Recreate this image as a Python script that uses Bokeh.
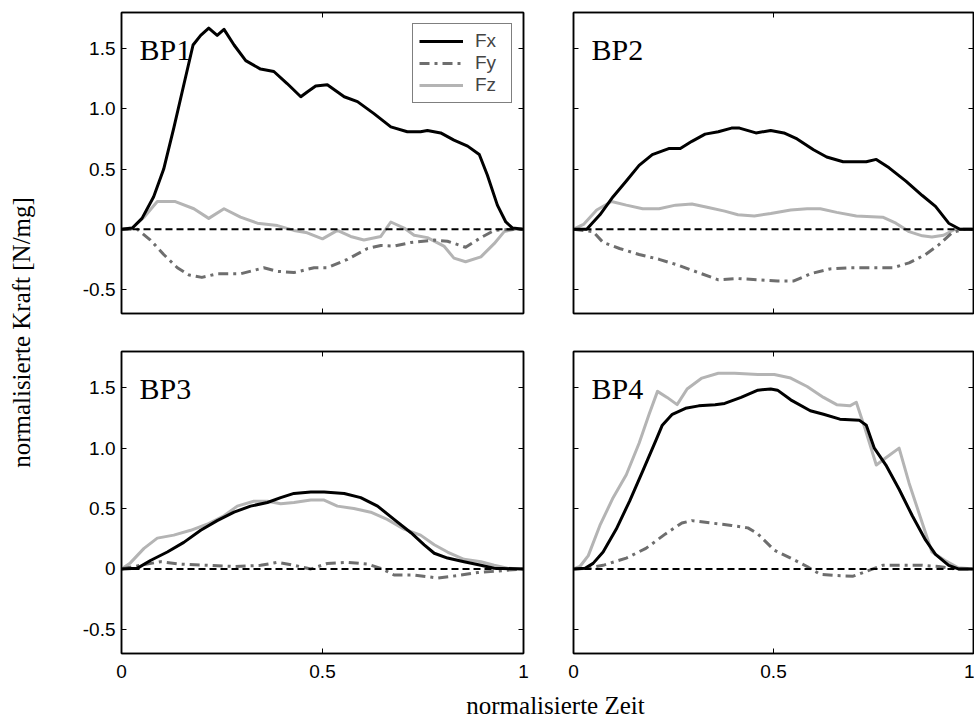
import math
from bokeh.plotting import figure
from bokeh.models import Range1d, LinearAxis, FixedTicker, Span, Label, Legend, LegendItem
from bokeh.layouts import row, column
from bokeh.embed import file_html
from bokeh.resources import INLINE

# ---------------- data (normalised time, normalised force) ----------------
bp1_fx_t = [0, 0.027, 0.051, 0.08, 0.105, 0.13, 0.155, 0.178, 0.197, 0.217, 0.238, 0.255, 0.28, 0.309, 0.346, 0.379, 0.412, 0.446, 0.462, 0.483, 0.512, 0.533, 0.554, 0.587, 0.628, 0.67, 0.711, 0.744, 0.761, 0.794, 0.827, 0.861, 0.89, 0.91, 0.935, 0.956, 0.973, 1.0]
bp1_fx = [0, 0.01, 0.09, 0.27, 0.5, 0.84, 1.2, 1.53, 1.61, 1.67, 1.61, 1.66, 1.53, 1.40, 1.33, 1.31, 1.21, 1.10, 1.14, 1.19, 1.20, 1.15, 1.10, 1.06, 0.96, 0.85, 0.81, 0.81, 0.82, 0.80, 0.74, 0.69, 0.62, 0.45, 0.20, 0.06, 0.01, 0]
bp1_fy_t = [0, 0.039, 0.072, 0.105, 0.139, 0.168, 0.2, 0.238, 0.296, 0.354, 0.388, 0.429, 0.479, 0.512, 0.562, 0.612, 0.645, 0.678, 0.72, 0.778, 0.811, 0.856, 0.894, 0.927, 0.977, 1.0]
bp1_fy = [0, 0, -0.09, -0.21, -0.32, -0.38, -0.40, -0.37, -0.37, -0.32, -0.35, -0.36, -0.32, -0.32, -0.25, -0.16, -0.135, -0.14, -0.11, -0.09, -0.10, -0.15, -0.07, -0.01, 0, 0]
bp1_fz_t = [0, 0.027, 0.056, 0.089, 0.134, 0.18, 0.217, 0.255, 0.296, 0.338, 0.388, 0.429, 0.462, 0.5, 0.537, 0.57, 0.603, 0.645, 0.67, 0.703, 0.728, 0.761, 0.802, 0.827, 0.856, 0.894, 0.927, 0.952, 0.977, 1.0]
bp1_fz = [0, 0.01, 0.10, 0.23, 0.23, 0.17, 0.09, 0.17, 0.10, 0.05, 0.03, -0.01, -0.03, -0.08, -0.01, -0.06, -0.09, -0.06, 0.06, 0.01, -0.05, -0.07, -0.14, -0.24, -0.27, -0.23, -0.12, -0.02, 0, 0]

bp2_fx_t = [0, 0.033, 0.066, 0.099, 0.132, 0.164, 0.197, 0.238, 0.267, 0.296, 0.329, 0.362, 0.395, 0.415, 0.456, 0.493, 0.526, 0.559, 0.6, 0.633, 0.674, 0.732, 0.757, 0.789, 0.831, 0.872, 0.905, 0.938, 0.966, 1.0]
bp2_fx = [0, 0, 0.12, 0.27, 0.40, 0.53, 0.62, 0.67, 0.67, 0.73, 0.79, 0.81, 0.84, 0.84, 0.80, 0.82, 0.80, 0.75, 0.66, 0.60, 0.56, 0.56, 0.58, 0.51, 0.40, 0.28, 0.19, 0.05, 0, 0]
bp2_fy_t = [0, 0.049, 0.074, 0.115, 0.164, 0.214, 0.263, 0.312, 0.362, 0.411, 0.461, 0.51, 0.551, 0.592, 0.641, 0.691, 0.798, 0.839, 0.88, 0.913, 0.946, 0.975, 1.0]
bp2_fy = [0, -0.02, -0.11, -0.16, -0.21, -0.25, -0.30, -0.36, -0.42, -0.41, -0.42, -0.43, -0.43, -0.37, -0.33, -0.32, -0.32, -0.28, -0.21, -0.13, -0.03, 0, 0]
bp2_fz_t = [0, 0.025, 0.058, 0.095, 0.132, 0.173, 0.214, 0.255, 0.296, 0.337, 0.378, 0.411, 0.452, 0.493, 0.543, 0.584, 0.617, 0.658, 0.707, 0.773, 0.806, 0.839, 0.872, 0.896, 0.925, 0.954, 1.0]
bp2_fz = [0, 0.04, 0.16, 0.23, 0.20, 0.17, 0.17, 0.20, 0.21, 0.18, 0.15, 0.12, 0.11, 0.13, 0.16, 0.17, 0.17, 0.14, 0.11, 0.10, 0.05, -0.02, -0.055, -0.065, -0.05, 0, 0]

bp3_fx_t = [0, 0.039, 0.072, 0.114, 0.155, 0.197, 0.238, 0.28, 0.321, 0.363, 0.396, 0.429, 0.471, 0.504, 0.554, 0.595, 0.637, 0.678, 0.72, 0.753, 0.778, 0.811, 0.852, 0.894, 0.927, 1.0]
bp3_fx = [0, 0.005, 0.07, 0.14, 0.22, 0.32, 0.40, 0.47, 0.52, 0.55, 0.59, 0.625, 0.636, 0.636, 0.625, 0.59, 0.52, 0.41, 0.30, 0.20, 0.13, 0.09, 0.06, 0.03, 0.005, 0]
bp3_fy_t = [0, 0.047, 0.097, 0.147, 0.213, 0.28, 0.346, 0.388, 0.429, 0.471, 0.512, 0.562, 0.612, 0.645, 0.678, 0.728, 0.786, 0.836, 0.886, 0.927, 0.96, 1.0]
bp3_fy = [0, 0.03, 0.06, 0.04, 0.03, 0.02, 0.03, 0.055, 0.03, 0, 0.045, 0.055, 0.04, 0.005, -0.05, -0.05, -0.075, -0.055, -0.03, -0.02, -0.01, 0]
bp3_fz_t = [0, 0.022, 0.056, 0.089, 0.13, 0.172, 0.213, 0.255, 0.288, 0.329, 0.363, 0.396, 0.429, 0.471, 0.504, 0.537, 0.578, 0.62, 0.661, 0.703, 0.744, 0.778, 0.811, 0.852, 0.894, 0.927, 0.96, 1.0]
bp3_fz = [0, 0.05, 0.17, 0.255, 0.28, 0.32, 0.37, 0.44, 0.52, 0.56, 0.56, 0.54, 0.55, 0.57, 0.57, 0.52, 0.50, 0.47, 0.41, 0.33, 0.28, 0.20, 0.14, 0.08, 0.06, 0.03, 0.005, 0]

bp4_fx_t = [0, 0.029, 0.049, 0.074, 0.107, 0.14, 0.173, 0.206, 0.222, 0.247, 0.28, 0.313, 0.354, 0.378, 0.419, 0.461, 0.493, 0.51, 0.543, 0.592, 0.625, 0.666, 0.715, 0.732, 0.752, 0.781, 0.814, 0.847, 0.88, 0.905, 0.938, 0.962, 1.0]
bp4_fx = [0, 0.005, 0.046, 0.14, 0.33, 0.56, 0.81, 1.065, 1.19, 1.28, 1.33, 1.35, 1.36, 1.37, 1.42, 1.48, 1.49, 1.48, 1.40, 1.31, 1.28, 1.24, 1.23, 1.19, 1.00, 0.86, 0.66, 0.44, 0.24, 0.12, 0.03, 0, 0]
bp4_fy_t = [0, 0.033, 0.074, 0.132, 0.181, 0.23, 0.271, 0.296, 0.345, 0.395, 0.436, 0.461, 0.502, 0.543, 0.584, 0.617, 0.658, 0.699, 0.732, 0.773, 0.822, 0.872, 0.913, 0.954, 1.0]
bp4_fy = [0, 0.005, 0.03, 0.09, 0.17, 0.29, 0.38, 0.40, 0.38, 0.36, 0.34, 0.29, 0.155, 0.09, 0.02, -0.045, -0.055, -0.06, -0.02, 0.03, 0.03, 0.03, 0.02, 0, 0]
bp4_fz_t = [0, 0.016, 0.037, 0.066, 0.099, 0.132, 0.164, 0.189, 0.21, 0.234, 0.259, 0.284, 0.321, 0.362, 0.403, 0.461, 0.502, 0.543, 0.584, 0.625, 0.658, 0.691, 0.707, 0.728, 0.757, 0.781, 0.814, 0.839, 0.863, 0.896, 0.929, 0.962, 1.0]
bp4_fz = [0, 0.02, 0.11, 0.36, 0.59, 0.78, 1.04, 1.28, 1.47, 1.42, 1.36, 1.49, 1.58, 1.62, 1.62, 1.61, 1.61, 1.58, 1.51, 1.42, 1.36, 1.35, 1.38, 1.17, 0.86, 0.92, 1.00, 0.71, 0.47, 0.14, 0.07, 0.01, 0]

panel_names = ["BP1", "BP2", "BP3", "BP4"]
series_names = ["Fx", "Fy", "Fz"]
x_ticks = [0, 0.5, 1]
x_tick_labels = {0: "0", 0.5: "0.5", 1: "1"}
y_ticks = [-0.5, 0, 0.5, 1.0, 1.5]
y_tick_labels = {-0.5: "-0.5", 0: "0", 0.5: "0.5", 1: "1.0", 1.5: "1.5"}
x_label = "normalisierte Zeit"
y_label = "normalisierte Kraft [N/mg]"

# ---------------- styling ----------------
SANS = "Liberation Sans"
SERIF = "Liberation Serif"
TICK_FS = "19px"
styles = {
    "Fx": dict(line_color="black", line_width=3),
    "Fy": dict(line_color="#6e6e6e", line_width=3, line_dash="10 5 3 5"),
    "Fz": dict(line_color="#b4b4b4", line_width=3),
}

panel_data = [
    [(bp1_fx_t, bp1_fx), (bp1_fy_t, bp1_fy), (bp1_fz_t, bp1_fz)],
    [(bp2_fx_t, bp2_fx), (bp2_fy_t, bp2_fy), (bp2_fz_t, bp2_fz)],
    [(bp3_fx_t, bp3_fx), (bp3_fy_t, bp3_fy), (bp3_fz_t, bp3_fz)],
    [(bp4_fx_t, bp4_fx), (bp4_fy_t, bp4_fy), (bp4_fz_t, bp4_fz)],
]


def style_axis(ax, ticks, overrides, show_labels, standoff):
    ax.ticker = FixedTicker(ticks=ticks)
    ax.minor_tick_line_color = None
    ax.major_tick_in = 5
    ax.major_tick_out = 0
    ax.major_tick_line_color = "black"
    ax.major_tick_line_width = 1
    ax.axis_line_color = "black"
    ax.axis_line_width = 1.5
    if show_labels:
        ax.major_label_overrides = overrides
        ax.major_label_text_font = SANS
        ax.major_label_text_font_size = TICK_FS
        ax.major_label_text_color = "black"
        ax.major_label_standoff = standoff
    else:
        ax.major_label_overrides = {t: "" for t in ticks}
        ax.major_label_text_font_size = "1px"
        ax.major_label_standoff = 0


def make_panel(idx, width, height, mb_left, mb_right, mb_top, mb_bottom):
    left_col = idx in (0, 2)
    bottom_row = idx in (2, 3)
    p = figure(width=width, height=height, output_backend="svg", toolbar_location=None,
               x_range=Range1d(0, 1), y_range=Range1d(-0.7, 1.8),
               min_border_left=mb_left, min_border_right=mb_right,
               min_border_top=mb_top, min_border_bottom=mb_bottom,
               x_axis_location="below", y_axis_location="left")
    p.grid.visible = False
    p.outline_line_color = "black"
    p.outline_line_width = 1.5
    p.background_fill_color = "white"
    p.border_fill_color = "white"

    style_axis(p.xaxis[0], x_ticks, x_tick_labels, bottom_row, 11)
    style_axis(p.yaxis[0], y_ticks, y_tick_labels, left_col, 6)
    top_ax = LinearAxis()
    style_axis(top_ax, x_ticks, x_tick_labels, False, 0)
    p.add_layout(top_ax, "above")
    right_ax = LinearAxis()
    style_axis(right_ax, y_ticks, y_tick_labels, False, 0)
    p.add_layout(right_ax, "right")

    renderers = {}
    for name, (t, v) in zip(series_names, panel_data[idx]):
        renderers[name] = p.line(t, v, line_join="round", **styles[name])
    # draw order: Fz under Fy under Fx
    p.renderers = [renderers["Fz"], renderers["Fy"], renderers["Fx"]]

    p.add_layout(Span(location=0, dimension="width", line_color="black",
                      line_width=2, line_dash="7 4"))

    p.add_layout(Label(x=0.045, y=1.49, text=panel_names[idx], text_font=SERIF,
                       text_font_size="30px", text_color="black",
                       text_baseline="alphabetic", text_align="left"))

    if idx == 0:
        legend = Legend(items=[LegendItem(label=n, renderers=[renderers[n]]) for n in series_names],
                        location="top_right", margin=11, padding=6, spacing=0,
                        label_text_font=SANS, label_text_font_size=TICK_FS,
                        label_height=22, label_width=30, glyph_height=22, glyph_width=44,
                        label_standoff=12, border_line_color="black", border_line_width=1,
                        background_fill_color="white", background_fill_alpha=1.0)
        p.add_layout(legend, "center")
    return p


# page offsets are built into the layout (the page itself has no margin)
TOP_H = 332
BOT_H = 355
LEFT_W = 500
RIGHT_W = 426

p1 = make_panel(0, LEFT_W, TOP_H, 73, 25, 12, 19)
p2 = make_panel(1, RIGHT_W, TOP_H, 25, 1, 12, 19)
p3 = make_panel(2, LEFT_W, BOT_H, 73, 25, 19, 34)
p4 = make_panel(3, RIGHT_W, BOT_H, 25, 1, 19, 34)

# y label strip
YL_W = 48
YL_H = TOP_H + BOT_H
ylab = figure(width=YL_W, height=YL_H, output_backend="svg", toolbar_location=None,
              x_range=Range1d(0, YL_W), y_range=Range1d(0, YL_H),
              x_axis_type=None, y_axis_type=None,
              min_border=0, outline_line_color=None)
ylab.grid.visible = False
ylab.add_layout(Label(x=21, y=YL_H - 332, text=y_label, angle=math.pi / 2,
                      text_font=SERIF, text_font_size="25px", text_color="black",
                      text_align="center", text_baseline="middle"))

# x label strip
XL_W = YL_W + LEFT_W + RIGHT_W
XL_H = 35
xlab = figure(width=XL_W, height=XL_H, output_backend="svg", toolbar_location=None,
              x_range=Range1d(0, XL_W), y_range=Range1d(0, XL_H),
              x_axis_type=None, y_axis_type=None,
              min_border=0, outline_line_color=None)
xlab.grid.visible = False
xlab.add_layout(Label(x=555, y=17, text=x_label,
                      text_font=SERIF, text_font_size="25px", text_color="black",
                      text_align="center", text_baseline="middle"))

layout = column(row(ylab, column(row(p1, p2), row(p3, p4))), xlab)

open("out.html", "w").write(file_html(layout, INLINE))
